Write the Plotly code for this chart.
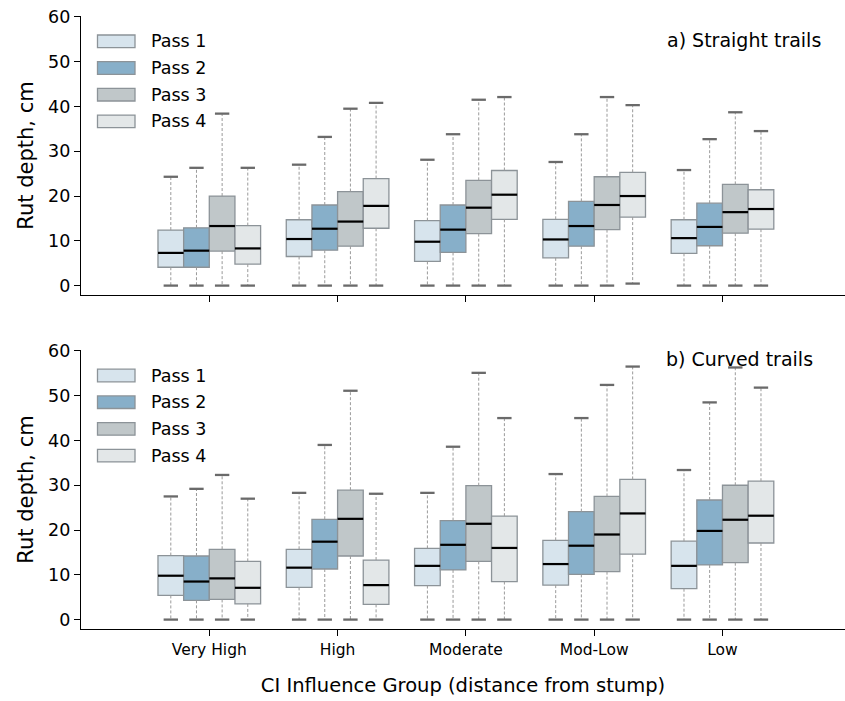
import plotly.graph_objects as go
from plotly.subplots import make_subplots

categories = ["Very High", "High", "Moderate", "Mod-Low", "Low"]
passes = ["Pass 1", "Pass 2", "Pass 3", "Pass 4"]
colors = ["#d7e4ed", "#87afc9", "#c0c7c9", "#e3e7e8"]

# a) Straight trails: per pass, values for each category
straight_q1 = [[4.1, 6.5, 5.4, 6.2, 7.2],
               [4.1, 7.9, 7.4, 8.8, 8.9],
               [7.7, 8.8, 11.6, 12.5, 11.7],
               [4.8, 12.8, 14.8, 15.3, 12.6]]
straight_med = [[7.3, 10.4, 9.8, 10.3, 10.6],
                [7.8, 12.7, 12.5, 13.3, 13.1],
                [13.3, 14.3, 17.4, 18.0, 16.4],
                [8.3, 17.8, 20.3, 20.0, 17.1]]
straight_q3 = [[12.4, 14.7, 14.5, 14.8, 14.7],
               [12.9, 18.0, 18.0, 18.8, 18.4],
               [20.0, 21.0, 23.5, 24.3, 22.6],
               [13.4, 23.9, 25.7, 25.3, 21.4]]
straight_lo = [[0, 0, 0, 0, 0],
               [0, 0, 0, 0, 0],
               [0, 0, 0, 0, 0],
               [0, 0, 0, 0.45, 0]]
straight_hi = [[24.3, 27.0, 28.1, 27.6, 25.8],
               [26.3, 33.2, 33.8, 33.8, 32.7],
               [38.4, 39.5, 41.5, 42.1, 38.7],
               [26.3, 40.8, 42.1, 40.3, 34.5]]

# b) Curved trails
curved_q1 = [[5.4, 7.2, 7.6, 7.7, 6.9],
             [4.3, 11.3, 11.1, 10.1, 12.2],
             [4.5, 14.2, 13.0, 10.7, 12.7],
             [3.5, 3.4, 8.5, 14.6, 17.1]]
curved_med = [[9.8, 11.6, 12.0, 12.4, 12.0],
              [8.5, 17.4, 16.7, 16.5, 19.8],
              [9.2, 22.5, 21.4, 19.0, 22.3],
              [7.1, 7.7, 16.0, 23.7, 23.2]]
curved_q3 = [[14.3, 15.7, 15.9, 17.7, 17.5],
             [14.2, 22.4, 22.1, 24.1, 26.7],
             [15.7, 28.9, 29.9, 27.5, 30.0],
             [13.0, 13.3, 23.1, 31.3, 30.9]]
curved_lo = [[0, 0, 0, 0, 0],
             [0, 0, 0, 0, 0],
             [0, 0, 0, 0, 0],
             [0, 0, 0, 0, 0]]
curved_hi = [[27.5, 28.3, 28.3, 32.5, 33.4],
             [29.2, 39.0, 38.6, 45.0, 48.5],
             [32.3, 51.1, 55.1, 52.4, 56.3],
             [27.0, 28.1, 45.0, 56.5, 51.8]]

panels = [
    (straight_q1, straight_med, straight_q3, straight_lo, straight_hi, "a) Straight trails"),
    (curved_q1, curved_med, curved_q3, curved_lo, curved_hi, "b) Curved trails"),
]

BW = 0.2
CAP = 0.056
BOX_LINE = "#8c9398"
WHISK = "#9a9a9a"
CAPC = "#6a6a6a"
FONT = "DejaVu Sans"

fig = make_subplots(rows=2, cols=1, vertical_spacing=0.09)

for r, (q1s, meds, q3s, los, his, label) in enumerate(panels, start=1):
    for j in range(4):
        pos = [i + (j - 1.5) * BW for i in range(len(categories))]
        wx, wy, cx, cy, mx, my = [], [], [], [], [], []
        for k, p in enumerate(pos):
            wx += [p, p, None, p, p, None]
            wy += [q3s[j][k], his[j][k], None, q1s[j][k], los[j][k], None]
            cx += [p - CAP, p + CAP, None, p - CAP, p + CAP, None]
            cy += [his[j][k], his[j][k], None, los[j][k], los[j][k], None]
            mx += [p - BW / 2, p + BW / 2, None]
            my += [meds[j][k], meds[j][k], None]
        fig.add_trace(go.Scatter(x=wx, y=wy, mode="lines", showlegend=False, hoverinfo="skip",
                                 line=dict(color=WHISK, width=1, dash="3px,2px")), row=r, col=1)
        fig.add_trace(go.Scatter(x=cx, y=cy, mode="lines", showlegend=False, hoverinfo="skip",
                                 line=dict(color=CAPC, width=2.3)), row=r, col=1)
        fig.add_trace(go.Box(x=pos, q1=q1s[j], median=meds[j], q3=q3s[j],
                             lowerfence=q1s[j], upperfence=q3s[j], width=BW,
                             fillcolor=colors[j], line=dict(color=BOX_LINE, width=1.3),
                             whiskerwidth=0, name=passes[j], showlegend=False,
                             boxpoints=False), row=r, col=1)
        fig.add_trace(go.Scatter(x=mx, y=my, mode="lines", showlegend=False, hoverinfo="skip",
                                 line=dict(color="black", width=2.2)), row=r, col=1)

H, W = 701, 845
mt, mb, ml, mr = 16, 72, 81, 0
ph = H - mt - mb
top_dom = [(629 - 295) / ph, 1.0]
bot_dom = [0.0, (629 - 350) / ph]

axis_common = dict(showline=True, linecolor="black", linewidth=1.3, ticks="outside",
                   ticklen=6, tickwidth=1.3, tickcolor="black", showgrid=False, zeroline=False,
                   mirror=False)

fig.update_layout(
    width=W, height=H, margin=dict(t=mt, b=mb, l=ml, r=mr),
    plot_bgcolor="white", paper_bgcolor="white",
    font=dict(family=FONT, color="black"),
    boxmode="overlay", showlegend=False,
    xaxis=dict(domain=[0, 1], range=[-1, 4.955], tickvals=list(range(len(categories))),
               showticklabels=False, **axis_common),
    xaxis2=dict(domain=[0, 1], range=[-1, 4.955], tickvals=list(range(len(categories))),
                ticktext=categories, tickfont=dict(size=15.5),
                title=dict(text="CI Influence Group (distance from stump)", font=dict(size=19.5), standoff=20),
                **axis_common),
    yaxis=dict(domain=top_dom, range=[-2.1, 60.2], tickvals=[0, 10, 20, 30, 40, 50, 60],
               tickfont=dict(size=17.5), title=dict(text="Rut depth, cm", font=dict(size=21), standoff=8),
               **axis_common),
    yaxis2=dict(domain=bot_dom, range=[-2.1, 60.2], tickvals=[0, 10, 20, 30, 40, 50, 60],
                tickfont=dict(size=17.5), title=dict(text="Rut depth, cm", font=dict(size=21), standoff=8),
                **axis_common),
)

fig.add_annotation(text="a) Straight trails", xref="paper", yref="paper",
                   x=(823 - ml) / (W - ml - mr), y=(629 - 40) / ph, xanchor="right", yanchor="middle",
                   showarrow=False, font=dict(size=19))
fig.add_annotation(text="b) Curved trails", xref="paper", yref="paper",
                   x=(815 - ml) / (W - ml - mr), y=(629 - 359) / ph, xanchor="right", yanchor="middle",
                   showarrow=False, font=dict(size=19))

pw = W - ml - mr
def px_x(x):
    return (x - ml) / pw
def px_y(y):
    return (629 - y) / ph

for top_center in (41.3, 375.5):
    for j, name in enumerate(passes):
        cyp = top_center + j * 26.7
        fig.add_shape(type="rect", xref="paper", yref="paper",
                      x0=px_x(97.5), x1=px_x(135), y0=px_y(cyp - 6.3), y1=px_y(cyp + 6.3),
                      fillcolor=colors[j], line=dict(color=BOX_LINE, width=1.3))
        fig.add_annotation(text=name, xref="paper", yref="paper", x=px_x(149), y=px_y(cyp),
                           xanchor="left", yanchor="middle", showarrow=False, font=dict(size=17.5))

fig.write_html("out.html")
